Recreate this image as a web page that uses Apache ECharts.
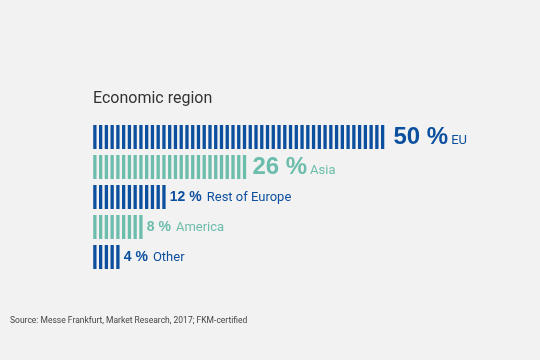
<!DOCTYPE html>
<html><head><meta charset="utf-8">
<script src="https://cdn.jsdelivr.net/npm/echarts@6/dist/echarts.min.js"></script>
<style>html,body{margin:0;padding:0;background:#f2f2f2}#c{width:540px;height:360px}</style>
</head><body><div id="c"></div>
<script>
const categories = ['EU', 'Asia', 'Rest of Europe', 'America', 'Other'];
const values = [50, 26, 12, 8, 4];
const percentLabels = ['50 %', '26 %', '12 %', '8 %', '4 %'];
const titleText = 'Economic region';
const sourceText = 'Source: Messe Frankfurt, Market Research, 2017; FKM-certified';

const BLUE = '#0b4f9e', TEAL = '#6dbdac';
const colors = [BLUE, TEAL, BLUE, TEAL, BLUE];
const big = [true, true, false, false, false];
const gaps = [8, 5, 3, 3, 3];

const data = values.map((v, i) => ({
  value: v,
  itemStyle: { color: colors[i] },
  label: {
    show: true,
    position: 'right',
    distance: gaps[i],
    formatter: (big[i] ? '{pb|' : '{ps|') + percentLabels[i] + '}' + (big[i] ? '{nb|' : '{ns|') + categories[i] + '}',
    rich: {
      pb: { fontFamily: 'Liberation Sans', fontWeight: 'bold', fontSize: 24, lineHeight: 24, color: colors[i], verticalAlign: 'bottom' },
      ps: { fontFamily: 'Liberation Sans', fontWeight: 'bold', fontSize: 14, lineHeight: 14, color: colors[i], verticalAlign: 'bottom' },
      nb: { fontFamily: 'Roboto', fontSize: 13, lineHeight: 13, color: colors[i], verticalAlign: 'bottom', padding: [0, 0, 1.6, 3] },
      ns: { fontFamily: 'Roboto', fontSize: 13, lineHeight: 14, color: colors[i], verticalAlign: 'bottom', padding: [0, 0, 0, 5] }
    }
  }
}));

const chart = echarts.init(document.getElementById('c'), null, { renderer: 'canvas' });
chart.setOption({
  backgroundColor: '#f2f2f2',
  animation: false,
  title: [
    { text: titleText, left: 93, top: 91, padding: 0, textStyle: { fontFamily: 'Roboto', fontSize: 16, fontWeight: 'normal', color: '#333' } },
    { text: sourceText, left: 10, top: 316, padding: 0, textStyle: { fontFamily: 'Roboto', fontSize: 8.5, fontWeight: 'normal', color: '#444' } }
  ],
  grid: { left: 92, width: 293.5, top: 122, height: 150, containLabel: false },
  xAxis: { type: 'value', min: 0, max: 50, show: false },
  yAxis: { type: 'category', data: categories, inverse: true, show: false },
  series: [{
    type: 'pictorialBar',
    symbol: 'rect',
    symbolRepeat: true,
    symbolMargin: '1.28!',
    symbolSize: [3.3, 24],
    data: data
  }]
});
</script></body></html>
